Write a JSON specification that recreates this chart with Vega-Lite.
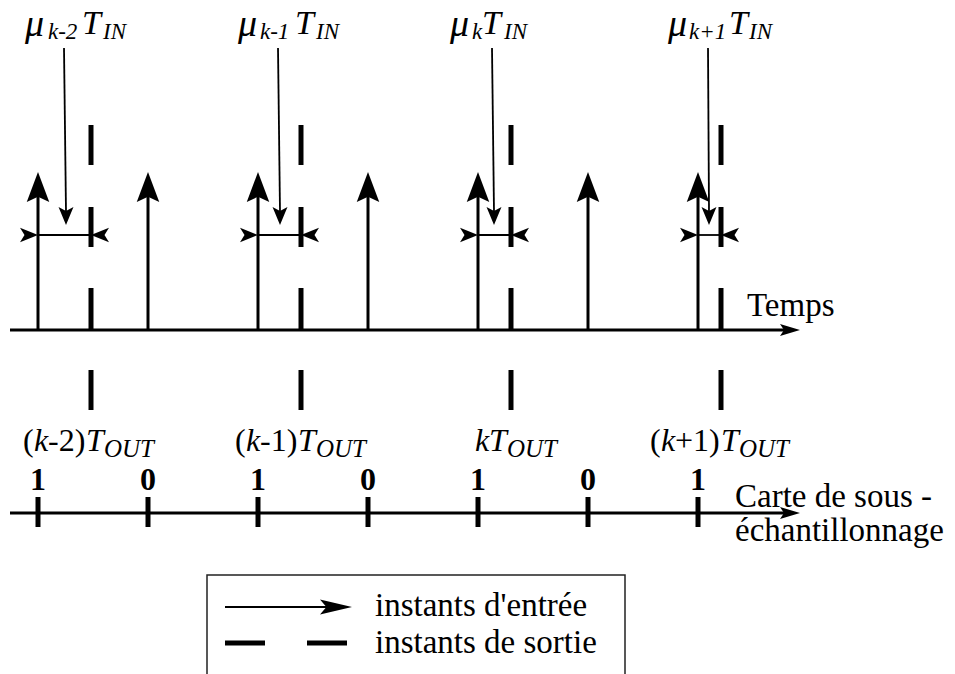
{
  "$schema": "https://vega.github.io/schema/vega-lite/v6.json",
  "width": 955,
  "height": 674,
  "padding": 0,
  "autosize": {"type": "none"},
  "background": "white",
  "config": {"view": {"stroke": null}},
  "datasets": {
    "seg": [
      {"x": 10, "y": 330, "x2": 792, "y2": 330, "kind": "axis"},
      {"x": 10, "y": 513, "x2": 792, "y2": 513, "kind": "axis"},
      {"x": 38, "y": 330, "x2": 38, "y2": 190, "kind": "input"},
      {"x": 148, "y": 330, "x2": 148, "y2": 190, "kind": "input"},
      {"x": 258, "y": 330, "x2": 258, "y2": 190, "kind": "input"},
      {"x": 368, "y": 330, "x2": 368, "y2": 190, "kind": "input"},
      {"x": 478, "y": 330, "x2": 478, "y2": 190, "kind": "input"},
      {"x": 588, "y": 330, "x2": 588, "y2": 190, "kind": "input"},
      {"x": 698, "y": 330, "x2": 698, "y2": 190, "kind": "input"},
      {"x": 91, "y": 125, "x2": 91, "y2": 165, "kind": "output"},
      {"x": 91, "y": 207, "x2": 91, "y2": 247, "kind": "output"},
      {"x": 91, "y": 288, "x2": 91, "y2": 330, "kind": "output"},
      {"x": 91, "y": 370, "x2": 91, "y2": 410, "kind": "output"},
      {"x": 301, "y": 125, "x2": 301, "y2": 165, "kind": "output"},
      {"x": 301, "y": 207, "x2": 301, "y2": 247, "kind": "output"},
      {"x": 301, "y": 288, "x2": 301, "y2": 330, "kind": "output"},
      {"x": 301, "y": 370, "x2": 301, "y2": 410, "kind": "output"},
      {"x": 511, "y": 125, "x2": 511, "y2": 165, "kind": "output"},
      {"x": 511, "y": 207, "x2": 511, "y2": 247, "kind": "output"},
      {"x": 511, "y": 288, "x2": 511, "y2": 330, "kind": "output"},
      {"x": 511, "y": 370, "x2": 511, "y2": 410, "kind": "output"},
      {"x": 721, "y": 125, "x2": 721, "y2": 165, "kind": "output"},
      {"x": 721, "y": 207, "x2": 721, "y2": 247, "kind": "output"},
      {"x": 721, "y": 288, "x2": 721, "y2": 330, "kind": "output"},
      {"x": 721, "y": 370, "x2": 721, "y2": 410, "kind": "output"},
      {"x": 38, "y": 497, "x2": 38, "y2": 527, "kind": "output"},
      {"x": 148, "y": 497, "x2": 148, "y2": 527, "kind": "output"},
      {"x": 258, "y": 497, "x2": 258, "y2": 527, "kind": "output"},
      {"x": 368, "y": 497, "x2": 368, "y2": 527, "kind": "output"},
      {"x": 478, "y": 497, "x2": 478, "y2": 527, "kind": "output"},
      {"x": 588, "y": 497, "x2": 588, "y2": 527, "kind": "output"},
      {"x": 698, "y": 497, "x2": 698, "y2": 527, "kind": "output"},
      {"x": 225, "y": 643, "x2": 265, "y2": 643, "kind": "output"},
      {"x": 307, "y": 643, "x2": 347, "y2": 643, "kind": "output"},
      {"x": 38, "y": 235, "x2": 91, "y2": 235, "kind": "thin"},
      {"x": 258, "y": 235, "x2": 301, "y2": 235, "kind": "thin"},
      {"x": 478, "y": 235, "x2": 511, "y2": 235, "kind": "thin"},
      {"x": 698, "y": 235, "x2": 721, "y2": 235, "kind": "thin"},
      {"x": 64, "y": 48, "x2": 66, "y2": 212, "kind": "thin"},
      {"x": 278, "y": 48, "x2": 280, "y2": 212, "kind": "thin"},
      {"x": 492, "y": 48, "x2": 494, "y2": 212, "kind": "thin"},
      {"x": 708, "y": 48, "x2": 709, "y2": 212, "kind": "thin"},
      {"x": 225, "y": 607, "x2": 338, "y2": 607, "kind": "thin"}
    ],
    "heads": [
      {"x": 38, "y": 187, "kind": "up"},
      {"x": 148, "y": 187, "kind": "up"},
      {"x": 258, "y": 187, "kind": "up"},
      {"x": 368, "y": 187, "kind": "up"},
      {"x": 478, "y": 187, "kind": "up"},
      {"x": 588, "y": 187, "kind": "up"},
      {"x": 698, "y": 187, "kind": "up"},
      {"x": 790, "y": 330, "kind": "axis"},
      {"x": 790, "y": 513, "kind": "axis"},
      {"x": 29, "y": 235, "kind": "bright"},
      {"x": 249, "y": 235, "kind": "bright"},
      {"x": 469, "y": 235, "kind": "bright"},
      {"x": 689, "y": 235, "kind": "bright"},
      {"x": 100, "y": 235, "kind": "bleft"},
      {"x": 310, "y": 235, "kind": "bleft"},
      {"x": 520, "y": 235, "kind": "bleft"},
      {"x": 730, "y": 235, "kind": "bleft"},
      {"x": 66, "y": 216, "kind": "down"},
      {"x": 280, "y": 216, "kind": "down"},
      {"x": 494, "y": 216, "kind": "down"},
      {"x": 709, "y": 216, "kind": "down"},
      {"x": 336, "y": 607, "kind": "legend"}
    ],
    "box": [{"x": 207, "y": 575, "x2": 625, "y2": 690}],
    "texts": [
      {"x": 25, "y": 36, "t": "μ", "kind": "mu"},
      {"x": 238, "y": 36, "t": "μ", "kind": "mu"},
      {"x": 450, "y": 36, "t": "μ", "kind": "mu"},
      {"x": 668, "y": 36, "t": "μ", "kind": "mu"},
      {"x": 48, "y": 39, "t": "k-2", "kind": "subtop"},
      {"x": 260, "y": 39, "t": "k-1", "kind": "subtop"},
      {"x": 472, "y": 39, "t": "k", "kind": "subtop"},
      {"x": 689, "y": 39, "t": "k+1", "kind": "subtop"},
      {"x": 103, "y": 39, "t": "IN", "kind": "subtop"},
      {"x": 316, "y": 39, "t": "IN", "kind": "subtop"},
      {"x": 504, "y": 39, "t": "IN", "kind": "subtop"},
      {"x": 749, "y": 39, "t": "IN", "kind": "subtop"},
      {"x": 82, "y": 34, "t": "T", "kind": "tbig"},
      {"x": 295, "y": 34, "t": "T", "kind": "tbig"},
      {"x": 482, "y": 34, "t": "T", "kind": "tbig"},
      {"x": 729, "y": 34, "t": "T", "kind": "tbig"},
      {"x": 23, "y": 451, "t": "(", "kind": "main"},
      {"x": 48, "y": 451, "t": "-2)", "kind": "main"},
      {"x": 235, "y": 451, "t": "(", "kind": "main"},
      {"x": 260, "y": 451, "t": "-1)", "kind": "main"},
      {"x": 650, "y": 451, "t": "(", "kind": "main"},
      {"x": 675, "y": 451, "t": "+1)", "kind": "main"},
      {"x": 34, "y": 451, "t": "k", "kind": "mainI"},
      {"x": 246, "y": 451, "t": "k", "kind": "mainI"},
      {"x": 475, "y": 451, "t": "k", "kind": "mainI"},
      {"x": 661, "y": 451, "t": "k", "kind": "mainI"},
      {"x": 86, "y": 451, "t": "T", "kind": "mainI"},
      {"x": 298, "y": 451, "t": "T", "kind": "mainI"},
      {"x": 489, "y": 451, "t": "T", "kind": "mainI"},
      {"x": 721, "y": 451, "t": "T", "kind": "mainI"},
      {"x": 104, "y": 457, "t": "OUT", "kind": "subO"},
      {"x": 316, "y": 457, "t": "OUT", "kind": "subO"},
      {"x": 507, "y": 457, "t": "OUT", "kind": "subO"},
      {"x": 739, "y": 457, "t": "OUT", "kind": "subO"},
      {"x": 38, "y": 490, "t": "1", "kind": "bold"},
      {"x": 148, "y": 490, "t": "0", "kind": "bold"},
      {"x": 258, "y": 490, "t": "1", "kind": "bold"},
      {"x": 368, "y": 490, "t": "0", "kind": "bold"},
      {"x": 478, "y": 490, "t": "1", "kind": "bold"},
      {"x": 588, "y": 490, "t": "0", "kind": "bold"},
      {"x": 698, "y": 490, "t": "1", "kind": "bold"},
      {"x": 747, "y": 316, "t": "Temps", "kind": "label"},
      {"x": 735, "y": 507, "t": "Carte de sous -", "kind": "label"},
      {"x": 735, "y": 541, "t": "échantillonnage", "kind": "label"},
      {"x": 375, "y": 616, "t": "instants d'entrée", "kind": "label"},
      {"x": 375, "y": 653, "t": "instants de sortie", "kind": "label"}
    ]
  },
  "encoding": {
    "x": {"field": "x", "type": "quantitative", "scale": {"domain": [0, 955], "nice": false, "zero": false}, "axis": null},
    "y": {"field": "y", "type": "quantitative", "scale": {"domain": [0, 674], "nice": false, "zero": false, "reverse": true}, "axis": null}
  },
  "layer": [
    {
      "data": {"name": "box"},
      "mark": {"type": "rect", "fill": null, "stroke": "#222", "strokeWidth": 1.5},
      "encoding": {"x2": {"field": "x2"}, "y2": {"field": "y2"}}
    },
    {
      "data": {"name": "seg"},
      "transform": [{"filter": "datum.kind == 'axis'"}],
      "mark": {"type": "rule", "color": "black", "strokeWidth": 3},
      "encoding": {"x2": {"field": "x2"}, "y2": {"field": "y2"}}
    },
    {
      "data": {"name": "seg"},
      "transform": [{"filter": "datum.kind == 'input'"}],
      "mark": {"type": "rule", "color": "black", "strokeWidth": 3},
      "encoding": {"x2": {"field": "x2"}, "y2": {"field": "y2"}}
    },
    {
      "data": {"name": "seg"},
      "transform": [{"filter": "datum.kind == 'output'"}],
      "mark": {"type": "rule", "color": "black", "strokeWidth": 5},
      "encoding": {"x2": {"field": "x2"}, "y2": {"field": "y2"}}
    },
    {
      "data": {"name": "seg"},
      "transform": [{"filter": "datum.kind == 'thin'"}],
      "mark": {"type": "rule", "color": "black", "strokeWidth": 1.8},
      "encoding": {"x2": {"field": "x2"}, "y2": {"field": "y2"}}
    },
    {
      "data": {"name": "heads"},
      "transform": [{"filter": "datum.kind == 'up'"}],
      "mark": {"type": "point", "filled": true, "color": "black", "opacity": 1, "strokeWidth": 0, "size": 900, "shape": "M0,-1L0.75,1L0,0.65L-0.75,1Z"}
    },
    {
      "data": {"name": "heads"},
      "transform": [{"filter": "datum.kind == 'axis'"}],
      "mark": {"type": "point", "filled": true, "color": "black", "opacity": 1, "strokeWidth": 0, "size": 400, "shape": "M1,0L-1,0.6L-0.6,0L-1,-0.6Z"}
    },
    {
      "data": {"name": "heads"},
      "transform": [{"filter": "datum.kind == 'bright'"}],
      "mark": {"type": "point", "filled": true, "color": "black", "opacity": 1, "strokeWidth": 0, "size": 324, "shape": "M1,0L-1,0.8L-0.5,0L-1,-0.8Z"}
    },
    {
      "data": {"name": "heads"},
      "transform": [{"filter": "datum.kind == 'bleft'"}],
      "mark": {"type": "point", "filled": true, "color": "black", "opacity": 1, "strokeWidth": 0, "size": 324, "shape": "M-1,0L1,0.8L0.5,0L1,-0.8Z"}
    },
    {
      "data": {"name": "heads"},
      "transform": [{"filter": "datum.kind == 'down'"}],
      "mark": {"type": "point", "filled": true, "color": "black", "opacity": 1, "strokeWidth": 0, "size": 324, "shape": "M0,1L0.83,-1L0,-0.55L-0.83,-1Z"}
    },
    {
      "data": {"name": "heads"},
      "transform": [{"filter": "datum.kind == 'legend'"}],
      "mark": {"type": "point", "filled": true, "color": "black", "opacity": 1, "strokeWidth": 0, "size": 1024, "shape": "M1,0L-1,0.47L-0.6,0L-1,-0.47Z"}
    },
    {
      "data": {"name": "texts"},
      "transform": [{"filter": "datum.kind == 'mu'"}],
      "mark": {"type": "text", "align": "left", "baseline": "alphabetic", "font": "Liberation Serif", "fontStyle": "italic", "fontSize": 38, "color": "black"},
      "encoding": {"text": {"field": "t"}}
    },
    {
      "data": {"name": "texts"},
      "transform": [{"filter": "datum.kind == 'tbig'"}],
      "mark": {"type": "text", "align": "left", "baseline": "alphabetic", "font": "Liberation Serif", "fontStyle": "italic", "fontSize": 34, "color": "black"},
      "encoding": {"text": {"field": "t"}}
    },
    {
      "data": {"name": "texts"},
      "transform": [{"filter": "datum.kind == 'subtop'"}],
      "mark": {"type": "text", "align": "left", "baseline": "alphabetic", "font": "Liberation Serif", "fontStyle": "italic", "fontSize": 23, "color": "black"},
      "encoding": {"text": {"field": "t"}}
    },
    {
      "data": {"name": "texts"},
      "transform": [{"filter": "datum.kind == 'main'"}],
      "mark": {"type": "text", "align": "left", "baseline": "alphabetic", "font": "Liberation Serif", "fontSize": 32, "color": "black"},
      "encoding": {"text": {"field": "t"}}
    },
    {
      "data": {"name": "texts"},
      "transform": [{"filter": "datum.kind == 'mainI'"}],
      "mark": {"type": "text", "align": "left", "baseline": "alphabetic", "font": "Liberation Serif", "fontStyle": "italic", "fontSize": 32, "color": "black"},
      "encoding": {"text": {"field": "t"}}
    },
    {
      "data": {"name": "texts"},
      "transform": [{"filter": "datum.kind == 'subO'"}],
      "mark": {"type": "text", "align": "left", "baseline": "alphabetic", "font": "Liberation Serif", "fontStyle": "italic", "fontSize": 25, "color": "black"},
      "encoding": {"text": {"field": "t"}}
    },
    {
      "data": {"name": "texts"},
      "transform": [{"filter": "datum.kind == 'bold'"}],
      "mark": {"type": "text", "align": "center", "baseline": "alphabetic", "font": "Liberation Serif", "fontWeight": "bold", "fontSize": 32, "color": "black"},
      "encoding": {"text": {"field": "t"}}
    },
    {
      "data": {"name": "texts"},
      "transform": [{"filter": "datum.kind == 'label'"}],
      "mark": {"type": "text", "align": "left", "baseline": "alphabetic", "font": "Liberation Serif", "fontSize": 33, "color": "black"},
      "encoding": {"text": {"field": "t"}}
    }
  ]
}
